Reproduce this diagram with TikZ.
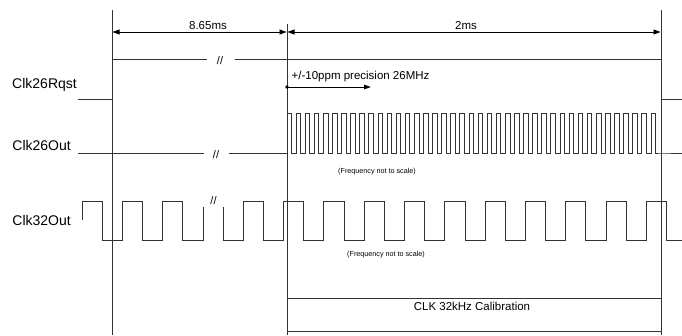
\documentclass[tikz,border=0pt]{standalone}
\usepackage{fontspec}
\setmainfont{Liberation Sans}
\usetikzlibrary{arrows.meta}
\begin{document}
\begin{tikzpicture}[x=1pt,y=-1pt,
  sig/.style={line width=0.9pt, draw=black!80, line join=miter},
  guide/.style={line width=0.9pt, draw=black!80},
  dimline/.style={line width=0.8pt, {Triangle[length=7pt,width=5pt]}-{Triangle[length=7pt,width=5pt]}},
  lbl/.style={anchor=base east, inner sep=0pt, font=\fontsize{14}{16}\selectfont},
  dimtxt/.style={anchor=base, inner sep=0pt, font=\fontsize{11.5}{13}\selectfont},
  brk/.style={inner sep=0pt, font=\fontsize{11}{12}\selectfont},
  smalltxt/.style={anchor=west, inner sep=0pt, font=\fontsize{7.2}{8}\selectfont}]
\useasboundingbox (0,0) rectangle (682,335);

% vertical guide lines
\coordinate (vA) at (112,10);  \coordinate (vAb) at (112,335);
\coordinate (vB) at (287,24);  \coordinate (vBb) at (287,335);
\coordinate (vC) at (661,10);  \coordinate (vCb) at (661,335);
\draw[guide] (vA) -- (vAb);
\draw[guide] (vB) -- (vBb);
\draw[guide] (vC) -- (vCb);

% dimension arrows
\coordinate (dA) at (112.5,32); \coordinate (dB) at (286.5,32);
\coordinate (dC) at (287.5,32); \coordinate (dD) at (660.5,32);
\draw[dimline] (dA) -- (dB);
\draw[dimline] (dC) -- (dD);
\node[dimtxt] (t865) at (208,29) {8.65ms};
\node[dimtxt] (t2ms) at (466,29) {2ms};

% labels
\node[lbl] (lRqst) at (77,88) {Clk26Rqst};
\node[lbl] (l26) at (71,150) {Clk26Out};
\node[lbl] (l32) at (71,225) {Clk32Out};

% Clk26Rqst
\draw[sig] (78,99) -- (112,99) -- (112,59) -- (207,59);
\draw[sig] (235,59) -- (661,59) -- (661,99) -- (682,99);
\node[brk] (b1) at (220,61) {//};

% Clk26Out
\draw[sig] (78,153) -- (204,153);
\node[brk] (b2) at (216,155) {//};
\draw[sig] (229,153) -- (287,153)
  \foreach \k in {0,...,40}{ -- ++(0,-40) -- ++(4.55,0) -- ++(0,40) -- ++(4.55,0)}
  -- (682,153);

% precision marker
\coordinate (pS) at (287,87); \coordinate (pE) at (371,87);
\fill (pS) circle (1.8pt);
\draw[line width=0.8pt, -{Triangle[length=7pt,width=4.5pt]}] (pS) -- (pE);
\node[anchor=base west, inner sep=0pt, font=\fontsize{11.5}{13}\selectfont] (tprec) at (291.5,79.5) {+/-10ppm precision 26MHz};
\node[smalltxt] (fr1) at (338,171.7) {(Frequency not to scale)};

% Clk32Out
\draw[sig] (82,220) -- (82,201) -- (102,201) -- (102,240.5) -- (122,240.5) -- (122,201) -- (142,201)
  -- (142,240.5) -- (162,240.5) -- (162,201) -- (182,201) -- (182,240.5) -- (203,240.5) -- (203,207);
\node[brk] (b3) at (213.5,201) {//};
\draw[sig] (223.3,207) -- (223.3,240.5) -- (243.3,240.5)
  \foreach \k in {0,...,10}{ -- ++(0,-39.5) -- ++(20.2,0) -- ++(0,39.5) -- ++(20.1,0)}
  -- (682,240.5);
\node[smalltxt] (fr2) at (347,254.3) {(Frequency not to scale)};

% calibration box
\draw[guide] (287,298) -- (661,298);
\draw[guide] (287,331) -- (661,331);
\node[dimtxt] (tcal) at (472,310) {CLK 32kHz Calibration};
\end{tikzpicture}
\end{document}
